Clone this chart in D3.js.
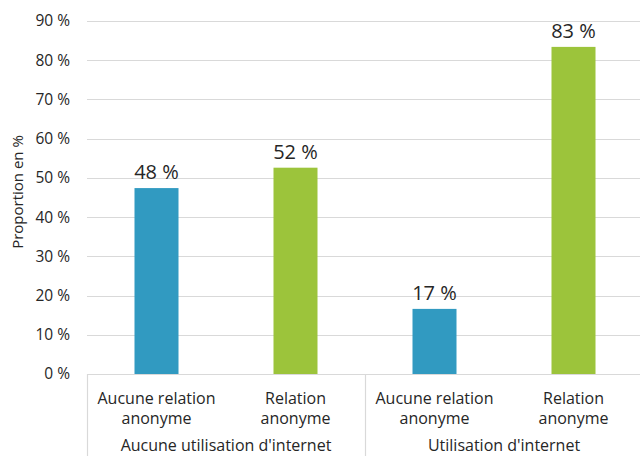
<!DOCTYPE html>
<html><head><meta charset="utf-8">
<script src="https://cdn.jsdelivr.net/npm/d3@7"></script>
<style>body{margin:0;background:#fff}svg{display:block}text{font-family:"Open Sans",Lato,sans-serif;fill:#262626}</style>
</head><body><svg id="c" width="640" height="456"></svg>
<script>
const groups = ["Aucune utilisation d'internet", "Utilisation d'internet"];
const categories = ["Aucune relation anonyme", "Relation anonyme", "Aucune relation anonyme", "Relation anonyme"];
const categoryLines = [["Aucune relation","anonyme"],["Relation","anonyme"],["Aucune relation","anonyme"],["Relation","anonyme"]];
const categoryGroup = [0, 0, 1, 1];
const values = [47.4, 52.6, 16.6, 83.4];
const labels = ["48 %", "52 %", "17 %", "83 %"];
const colors = ["#319ac1", "#9cc43b", "#319ac1", "#9cc43b"];
const yTicks = [0,10,20,30,40,50,60,70,80,90];
const yTitle = "Proportion en %";

(function(){
const svg = d3.select("#c");
const mLeft = 87, mRight = 643, mTop = 21, mBottom = 374;
const x = d3.scaleBand().domain(d3.range(categories.length)).range([mLeft, mRight]).paddingInner(0).paddingOuter(0);
const y = d3.scaleLinear().domain([0, 90]).range([mBottom, mTop]);

svg.append("g").selectAll("line").data(yTicks.filter(d=>d>0)).join("line")
  .attr("x1", mLeft).attr("x2", 640).attr("y1", d=>Math.round(y(d))+0.5).attr("y2", d=>Math.round(y(d))+0.5)
  .attr("stroke", "#d9d9d9").attr("stroke-width", 1.2);

svg.append("g").selectAll("text").data(yTicks).join("text")
  .attr("x", 70).attr("y", d=>y(d)).attr("dy", "0.35em").attr("text-anchor","end")
  .attr("font-size", 15.5).text(d=>d+" %");

svg.append("text").attr("transform", `translate(23,192) rotate(-90)`)
  .attr("text-anchor","middle").attr("font-size", 15).text(yTitle);

const bw = 44;
svg.append("g").selectAll("rect").data(values).join("rect")
  .attr("x", (d,i)=>x(i)+x.bandwidth()/2-bw/2).attr("width", bw)
  .attr("y", d=>y(d)).attr("height", d=>y(0)-y(d))
  .attr("fill", (d,i)=>colors[i]);

svg.append("g").selectAll("text").data(values).join("text")
  .attr("x", (d,i)=>x(i)+x.bandwidth()/2).attr("y", d=>y(d)-9)
  .attr("text-anchor","middle").attr("font-size", 20).text((d,i)=>labels[i]);

svg.append("line").attr("x1", mLeft).attr("x2", 640).attr("y1", mBottom+0.5).attr("y2", mBottom+0.5)
  .attr("stroke", "#d9d9d9").attr("stroke-width", 1.2);
const sepX = [mLeft, x(2)];
svg.append("g").selectAll("line").data(sepX).join("line")
  .attr("x1", d=>Math.round(d)+0.5).attr("x2", d=>Math.round(d)+0.5).attr("y1", mBottom).attr("y2", 456)
  .attr("stroke", "#d9d9d9").attr("stroke-width", 1.2);

const cg = svg.append("g").selectAll("text").data(categoryLines).join("text")
  .attr("x", (d,i)=>x(i)+x.bandwidth()/2).attr("y", 404)
  .attr("text-anchor","middle").attr("font-size", 16);
cg.selectAll("tspan").data(d=>d).join("tspan")
  .attr("x", function(){return this.parentNode.getAttribute("x");})
  .attr("dy", (d,j)=>j===0?0:20).text(d=>d);

svg.append("g").selectAll("text").data(groups).join("text")
  .attr("x", (d,gi)=>{const idx=categoryGroup.map((g,i)=>g===gi?i:-1).filter(i=>i>=0);
     return (x(idx[0]) + x(idx[idx.length-1]) + x.bandwidth())/2;})
  .attr("y", 451).attr("text-anchor","middle").attr("font-size", 16).text(d=>d);
})();
</script></body></html>
